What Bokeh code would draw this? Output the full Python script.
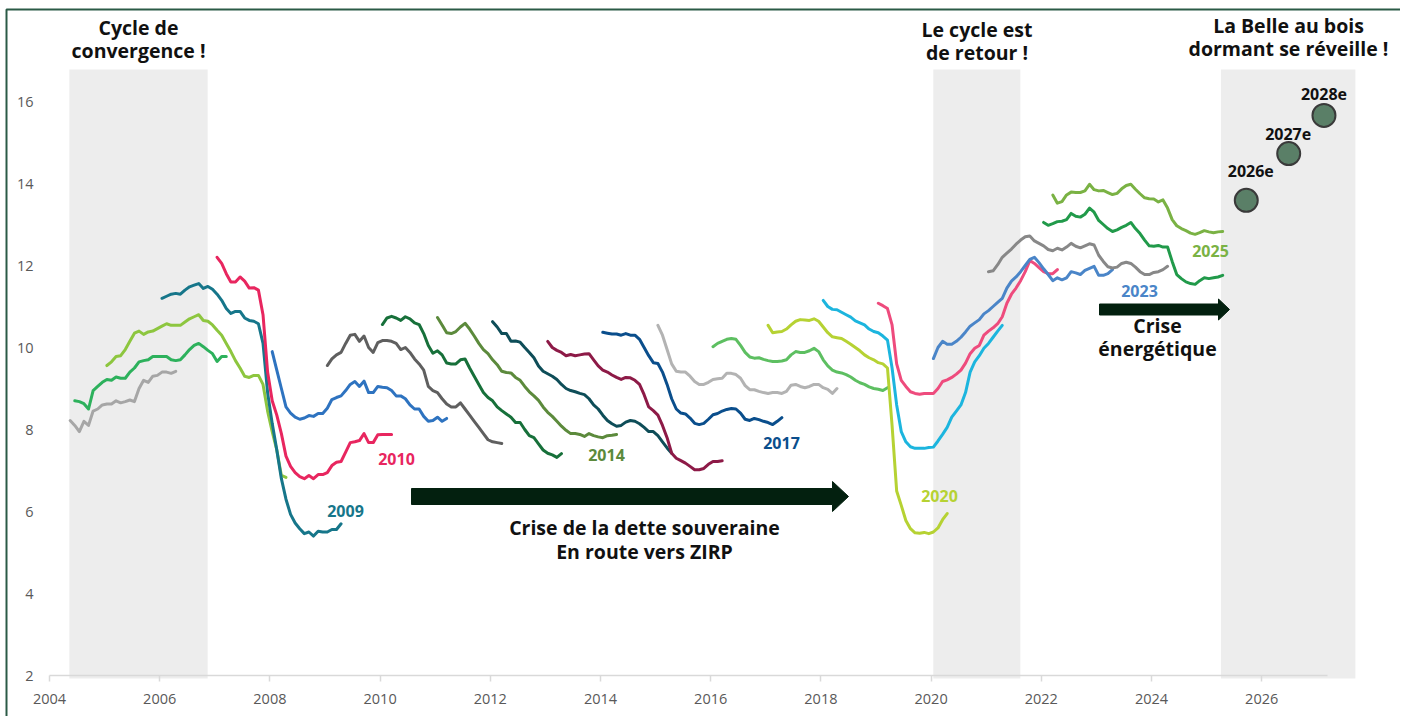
from bokeh.plotting import figure
from bokeh.models import Range1d, FixedTicker, BoxAnnotation
from bokeh.embed import file_html
from bokeh.resources import INLINE
from bokeh.core.properties import value

# ---------------- data ----------------
x_ticks = [2004, 2006, 2008, 2010, 2012, 2014, 2016, 2018, 2020, 2022, 2024, 2026]
y_ticks = [2, 4, 6, 8, 10, 12, 14, 16]

# shaded "cycle" periods
shade_start = [2004.36, 2020.04, 2025.26]
shade_end = [2006.87, 2021.62, 2027.70]
shade_top = 16.78

# each vintage: first month, then monthly values
series_names = ["2006", "2007", "2008", "2009", "2010", "2011", "2012", "2013", "2014", "2015", "2016",
                "2017", "2018", "2019", "2020", "2021", "2022", "2023", "2024", "2025", "2026"]
series_starts = ["2004-05", "2004-06", "2005-01", "2006-01", "2007-01", "2008-01", "2009-01", "2010-01",
                 "2011-01", "2012-01", "2013-01", "2014-01", "2015-01", "2016-01", "2017-01", "2018-01",
                 "2019-01", "2020-01", "2021-01", "2022-01", "2022-03"]
series_colors = ["#a6a6a6", "#2db15c", "#8dc63f", "#16768a", "#e8265f", "#2e73c0", "#5f5f5f", "#17703a",
                 "#5c8a3c", "#0e4d58", "#8d1a47", "#0a4e8c", "#b3b3b3", "#5dbf61", "#b6d233", "#1cb5de",
                 "#ee4b7d", "#4a85c8", "#888888", "#219a4a", "#7ab244"]

v2006 = [8.22, 8.1, 7.95, 8.2, 8.1, 8.45, 8.5, 8.6, 8.62, 8.62, 8.7, 8.65, 8.68, 8.72, 8.68, 9.0, 9.2, 9.15,
         9.3, 9.32, 9.4, 9.4, 9.37, 9.42]
v2007 = [8.7, 8.68, 8.63, 8.5, 8.95, 9.05, 9.15, 9.22, 9.2, 9.28, 9.25, 9.25, 9.4, 9.5, 9.65, 9.68, 9.7, 9.78,
         9.78, 9.78, 9.78, 9.7, 9.68, 9.7, 9.82, 9.95, 10.05, 10.1, 10.02, 9.93, 9.85, 9.66, 9.78, 9.78]
v2008 = [9.56, 9.65, 9.78, 9.8, 9.95, 10.15, 10.35, 10.4, 10.32, 10.38, 10.4, 10.46, 10.52, 10.58, 10.54,
         10.54, 10.54, 10.62, 10.7, 10.75, 10.8, 10.66, 10.64, 10.55, 10.42, 10.3, 10.1, 9.9, 9.68, 9.5, 9.3,
         9.27, 9.32, 9.32, 9.1, 8.45, 7.95, 7.5, 6.88, 6.83]
v2009 = [11.2, 11.25, 11.3, 11.32, 11.3, 11.4, 11.48, 11.52, 11.56, 11.44, 11.49, 11.42, 11.3, 11.15, 10.95,
         10.83, 10.88, 10.88, 10.72, 10.66, 10.64, 10.58, 10.1, 8.9, 8.15, 7.5, 6.8, 6.3, 5.93, 5.72, 5.58,
         5.46, 5.5, 5.4, 5.52, 5.5, 5.5, 5.56, 5.56, 5.7]
v2010 = [12.2, 12.05, 11.8, 11.6, 11.6, 11.72, 11.62, 11.45, 11.46, 11.4, 10.8, 9.4, 8.7, 8.35, 7.9, 7.35,
         7.1, 6.95, 6.85, 6.8, 6.88, 6.8, 6.9, 6.9, 6.95, 7.12, 7.2, 7.22, 7.45, 7.68, 7.7, 7.73, 7.9, 7.68,
         7.68, 7.87, 7.88, 7.88, 7.88]
v2011 = [9.9, 9.45, 9.0, 8.55, 8.4, 8.3, 8.25, 8.28, 8.34, 8.32, 8.39, 8.39, 8.52, 8.73, 8.78, 8.82, 8.95,
         9.1, 9.17, 9.05, 9.18, 8.9, 8.9, 9.05, 9.03, 9.02, 8.95, 8.82, 8.82, 8.75, 8.6, 8.5, 8.5, 8.32,
         8.2, 8.22, 8.3, 8.2, 8.27]
v2012 = [9.56, 9.72, 9.82, 9.88, 10.1, 10.3, 10.32, 10.15, 10.28, 10.0, 9.88, 10.12, 10.17, 10.17, 10.15,
         10.1, 9.95, 10.0, 9.88, 9.72, 9.6, 9.45, 9.05, 8.95, 8.9, 8.75, 8.62, 8.55, 8.55, 8.65, 8.5, 8.35,
         8.2, 8.05, 7.9, 7.75, 7.7, 7.68, 7.66]
v2013 = [10.56, 10.72, 10.76, 10.72, 10.66, 10.75, 10.7, 10.6, 10.56, 10.34, 10.05, 9.86, 9.92, 9.82, 9.62,
         9.6, 9.6, 9.7, 9.72, 9.5, 9.3, 9.1, 8.9, 8.78, 8.7, 8.55, 8.46, 8.38, 8.3, 8.17, 8.17, 8.0, 7.85,
         7.8, 7.65, 7.5, 7.42, 7.38, 7.32, 7.41]
v2014 = [10.73, 10.55, 10.36, 10.34, 10.39, 10.5, 10.59, 10.45, 10.28, 10.1, 9.95, 9.85, 9.7, 9.58, 9.42,
         9.39, 9.38, 9.27, 9.2, 9.05, 8.92, 8.82, 8.71, 8.55, 8.42, 8.32, 8.2, 8.08, 7.98, 7.9, 7.9, 7.88,
         7.83, 7.9, 7.85, 7.82, 7.8, 7.85, 7.86, 7.88]
v2015 = [10.63, 10.5, 10.34, 10.34, 10.15, 10.16, 10.13, 10.0, 9.88, 9.75, 9.55, 9.42, 9.36, 9.3, 9.22, 9.1,
         9.0, 8.95, 8.92, 8.88, 8.85, 8.75, 8.6, 8.5, 8.35, 8.22, 8.14, 8.08, 8.1, 8.18, 8.22, 8.2, 8.14,
         8.05, 7.95, 7.95, 7.85, 7.7, 7.55, 7.42]
v2016 = [10.15, 10.0, 9.93, 9.88, 9.8, 9.83, 9.8, 9.82, 9.84, 9.85, 9.7, 9.55, 9.45, 9.4, 9.33, 9.27, 9.22,
         9.27, 9.26, 9.2, 9.1, 8.85, 8.55, 8.46, 8.35, 8.1, 7.8, 7.42, 7.3, 7.24, 7.18, 7.1, 7.02, 7.02,
         7.05, 7.15, 7.22, 7.22, 7.24]
v2017 = [10.37, 10.35, 10.33, 10.33, 10.3, 10.34, 10.3, 10.3, 10.2, 10.0, 9.8, 9.63, 9.61, 9.4, 9.1, 8.75,
         8.5, 8.4, 8.38, 8.28, 8.15, 8.12, 8.15, 8.25, 8.36, 8.39, 8.45, 8.49, 8.51, 8.5, 8.4, 8.25, 8.22,
         8.27, 8.24, 8.2, 8.17, 8.12, 8.2, 8.29]
v2018 = [10.54, 10.3, 9.95, 9.6, 9.42, 9.4, 9.4, 9.3, 9.17, 9.1, 9.1, 9.15, 9.22, 9.24, 9.25, 9.37, 9.37,
         9.34, 9.25, 9.07, 8.97, 8.97, 8.93, 8.9, 8.88, 8.9, 8.9, 8.88, 8.93, 9.08, 9.1, 9.05, 9.02, 9.05,
         9.1, 9.1, 9.02, 8.98, 8.88, 9.0]
v2019 = [10.02, 10.1, 10.15, 10.2, 10.22, 10.2, 10.05, 9.88, 9.77, 9.74, 9.75, 9.71, 9.68, 9.66, 9.66, 9.67,
         9.7, 9.82, 9.9, 9.88, 9.88, 9.92, 9.98, 9.9, 9.7, 9.55, 9.45, 9.4, 9.38, 9.34, 9.28, 9.2, 9.14, 9.1,
         9.04, 9.0, 8.98, 8.95, 9.02]
v2020 = [10.54, 10.36, 10.38, 10.39, 10.45, 10.55, 10.64, 10.68, 10.67, 10.66, 10.7, 10.64, 10.5, 10.36,
         10.26, 10.24, 10.22, 10.15, 10.08, 10.0, 9.92, 9.82, 9.75, 9.7, 9.63, 9.6, 9.5, 8.1, 6.5, 6.15,
         5.78, 5.58, 5.48, 5.47, 5.49, 5.46, 5.5, 5.6, 5.8, 5.95]
v2021 = [11.15, 11.0, 10.93, 10.92, 10.86, 10.8, 10.74, 10.65, 10.6, 10.55, 10.45, 10.39, 10.36, 10.28,
         10.18, 9.5, 8.6, 7.95, 7.7, 7.58, 7.54, 7.54, 7.54, 7.56, 7.57, 7.72, 7.88, 8.05, 8.3, 8.45, 8.6,
         8.9, 9.4, 9.65, 9.8, 9.98, 10.1, 10.25, 10.4, 10.54]
v2022 = [11.08, 11.02, 10.95, 10.55, 9.6, 9.2, 9.05, 8.92, 8.88, 8.86, 8.88, 8.88, 8.88, 9.0, 9.17, 9.21,
         9.27, 9.35, 9.45, 9.62, 9.85, 9.98, 10.05, 10.3, 10.4, 10.48, 10.58, 10.75, 11.08, 11.3, 11.45,
         11.63, 11.85, 12.12, 12.05, 11.95, 11.85, 11.8, 11.8, 11.9]
v2023 = [9.73, 10.0, 10.15, 10.08, 10.08, 10.15, 10.25, 10.38, 10.52, 10.6, 10.68, 10.82, 10.9, 11.0, 11.1,
         11.2, 11.45, 11.62, 11.72, 11.85, 12.0, 12.15, 12.2, 12.07, 11.92, 11.78, 11.63, 11.7, 11.65, 11.7,
         11.85, 11.82, 11.78, 11.88, 11.93, 11.98, 11.76, 11.76, 11.8, 11.9]
v2024 = [11.85, 11.87, 12.02, 12.2, 12.3, 12.4, 12.52, 12.62, 12.7, 12.72, 12.6, 12.54, 12.48, 12.39, 12.36,
         12.42, 12.38, 12.45, 12.54, 12.47, 12.43, 12.48, 12.53, 12.5, 12.25, 12.1, 11.97, 11.94, 11.96,
         12.05, 12.08, 12.05, 11.96, 11.85, 11.78, 11.78, 11.83, 11.85, 11.9, 11.98]
v2025 = [13.05, 12.98, 13.02, 13.07, 13.08, 13.12, 13.27, 13.2, 13.18, 13.25, 13.4, 13.3, 13.1, 13.0, 12.9,
         12.83, 12.87, 12.93, 12.98, 13.05, 12.9, 12.78, 12.62, 12.48, 12.47, 12.49, 12.45, 12.45, 12.1,
         11.78, 11.68, 11.6, 11.56, 11.54, 11.63, 11.7, 11.68, 11.7, 11.72, 11.76]
v2026 = [13.72, 13.52, 13.56, 13.72, 13.79, 13.78, 13.78, 13.82, 13.98, 13.85, 13.82, 13.83, 13.78, 13.73,
         13.76, 13.87, 13.95, 13.98, 13.86, 13.75, 13.65, 13.63, 13.62, 13.55, 13.6, 13.4, 13.12, 12.97,
         12.9, 12.85, 12.79, 12.76, 12.8, 12.85, 12.82, 12.8, 12.82, 12.83]

series_values = [v2006, v2007, v2008, v2009, v2010, v2011, v2012, v2013, v2014, v2015, v2016,
                 v2017, v2018, v2019, v2020, v2021, v2022, v2023, v2024, v2025, v2026]

# estimates (dots)
est_x = [2025.72, 2026.49, 2027.13]
est_y = [13.59, 14.73, 15.66]
est_labels = ["2026e", "2027e", "2028e"]

# ---------------- layout helpers ----------------
W, H = 1400, 716
PX_PER_YEAR = 55.1
PX_PER_UNIT = 41.0
AXIS_X = 40


def tx(px):  # page x -> data x
    return 2004 + (px - 49) / PX_PER_YEAR


def ty(py):  # page y -> data y
    return 2 + (675 - py) / PX_PER_UNIT


# the frame covers the whole canvas; axes are drawn at fixed locations inside it
p = figure(width=W, height=H, output_backend="svg", toolbar_location=None,
           x_range=Range1d(tx(0), tx(W)), y_range=Range1d(ty(H), ty(0)),
           min_border_left=0, min_border_right=0, min_border_top=0, min_border_bottom=0)
p.outline_line_color = None
p.grid.visible = False
p.background_fill_color = "white"
p.border_fill_color = "white"

FONT = value("Open Sans")

# axes
p.xaxis.fixed_location = y_ticks[0]
p.xaxis.ticker = FixedTicker(ticks=x_ticks)
p.xaxis.major_label_overrides = {t: str(t) for t in x_ticks}
p.xaxis.bounds = (2004, 2027.2)
p.xaxis.axis_line_color = "#d9d9d9"
p.xaxis.axis_line_width = 1.5
p.xaxis.major_tick_line_color = "#d9d9d9"
p.xaxis.major_tick_line_width = 1.5
p.xaxis.major_tick_out = 6
p.xaxis.major_tick_in = 0
p.xaxis.minor_tick_line_color = None
p.xaxis.major_label_standoff = 12
p.yaxis.ticker = FixedTicker(ticks=y_ticks)
p.yaxis.fixed_location = tx(AXIS_X)
p.yaxis.axis_line_color = None
p.yaxis.major_tick_line_color = None
p.yaxis.minor_tick_line_color = None
p.yaxis.major_tick_out = 0
p.yaxis.major_tick_in = 0
p.yaxis.major_label_standoff = 7
for ax in (p.xaxis, p.yaxis):
    ax.major_label_text_font = "Open Sans"
    ax.major_label_text_font_size = "14.5px"
    ax.major_label_text_color = "#595959"

# shaded periods
p.quad(left=shade_start, right=shade_end, bottom=ty(678), top=shade_top,
       fill_color="#ededed", line_color=None, level="underlay")

# vintage lines
for start, vals, col in zip(series_starts, series_values, series_colors):
    yr, mo = (int(s) for s in start.split("-"))
    xs = [yr + (mo - 1 + i + 0.5) / 12 for i in range(len(vals))]
    p.line(xs, vals, line_color=col, line_width=3, line_join="round", line_cap="round")


# arrows (annotations) built in data units from pixel sizes
def arrow(x0, x1, yc, shaft_px, head_px, head_len_px, color="#03200f"):
    hs = shaft_px / PX_PER_UNIT
    hh = head_px / PX_PER_UNIT
    xb = x1 - head_len_px / PX_PER_YEAR
    xs = [x0, xb, xb, x1, xb, xb, x0]
    ys = [yc - hs, yc - hs, yc - hh, yc, yc + hh, yc + hs, yc + hs]
    p.patch(xs, ys, fill_color=color, line_color=color, line_width=1)


arrow(tx(411), tx(848), ty(496), 8, 15, 16)
arrow(tx(1099), tx(1229), ty(309), 5.5, 10.5, 11)

# estimate dots
p.scatter(est_x, est_y, size=23, fill_color="#5a7f67", line_color="#3a3a3a", line_width=2)
lab_dx = [4.5, -0.5, 0]
lab_dy = [29, 20, 21]
p.text(x=[x + dx / PX_PER_YEAR for x, dx in zip(est_x, lab_dx)],
       y=[y + dy / PX_PER_UNIT for y, dy in zip(est_y, lab_dy)],
       text=est_labels, text_font=FONT, text_font_style="bold", text_font_size="16px",
       text_color="#111111", text_align="center", text_baseline="alphabetic")

# headline annotations (page x, page baseline y)
heads = [("Cycle de", 138, 27), ("convergence !", 138, 50),
         ("Le cycle est", 976.5, 29), ("de retour !", 976.5, 52),
         ("La Belle au bois", 1288, 25), ("dormant se réveille !", 1288, 48),
         ("Crise de la dette souveraine", 644, 527), ("En route vers ZIRP", 644, 551),
         ("Crise", 1157, 325), ("énergétique", 1157, 348)]
p.text(x=[tx(h[1]) for h in heads], y=[ty(h[2]) for h in heads], text=[h[0] for h in heads],
       text_font=FONT, text_font_style="bold", text_font_size="19.5px", text_color="#111111",
       text_align="center", text_baseline="alphabetic")

# series year labels
year_labels = [("2009", 345, 510, "#16768a"), ("2010", 396, 458, "#e8265f"), ("2014", 606, 454, "#5c8a3c"),
               ("2017", 781, 442, "#0a4e8c"), ("2020", 939, 495, "#b6d233"), ("2023", 1139, 290, "#4a85c8"),
               ("2025", 1210, 250, "#7ab244")]
p.text(x=[tx(l[1]) for l in year_labels], y=[ty(l[2]) for l in year_labels],
       text=[l[0] for l in year_labels], text_color=[l[3] for l in year_labels],
       text_font=FONT, text_font_style="bold", text_font_size="16px",
       text_align="center", text_baseline="alphabetic")

# outer border (top and left edges visible)
p.add_layout(BoxAnnotation(left=6, right=W + 40, top=9, bottom=H + 40,
                           left_units="canvas", right_units="canvas",
                           top_units="canvas", bottom_units="canvas",
                           fill_color=None, fill_alpha=0, line_color="#2b5a46", line_alpha=1.0,
                           line_width=2))

open("out.html", "w").write(file_html(p, INLINE))
